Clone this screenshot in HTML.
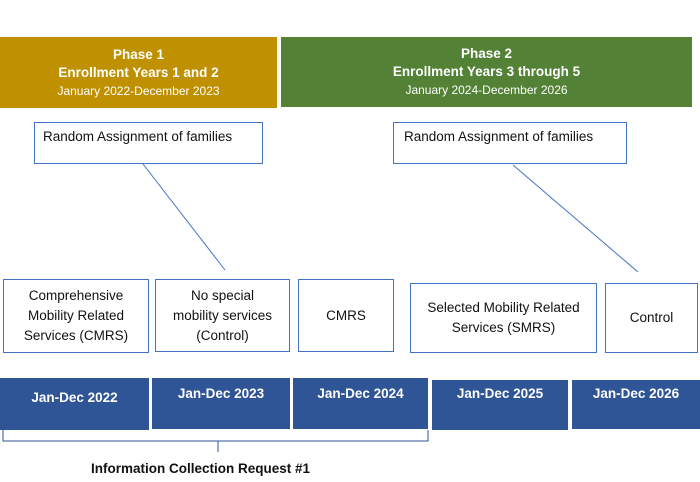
<!DOCTYPE html>
<html><head><meta charset="utf-8"><style>
body{margin:0;width:700px;height:482px;background:#fff;position:relative;overflow:hidden;font-family:"Liberation Sans",sans-serif;}
.b{position:absolute;box-sizing:border-box;display:flex;flex-direction:column;align-items:center;justify-content:center;text-align:center;}
.ph{color:#fff;font-size:13px;line-height:18px;}
.ph b{font-size:13.5px}
.ph span{font-size:12px}
.o{border:1px solid #4472c4;font-size:13.5px;line-height:20px;color:#111;}
.t{background:#2f5597;color:#fff;font-weight:bold;font-size:13.5px;}
</style></head><body>
<div class="b ph" style="left:0;top:37px;width:277px;height:71px;background:#bf9000"><b>Phase 1</b><b>Enrollment Years 1 and 2</b><span>January 2022-December 2023</span></div>
<div class="b ph" style="left:281px;top:37px;width:411px;height:70px;background:#538135"><b>Phase 2</b><b>Enrollment Years 3 through 5</b><span>January 2024-December 2026</span></div>
<div class="b o" style="left:34px;top:122px;width:229px;height:42px;justify-content:flex-start;align-items:flex-start;padding:4px 8px">Random Assignment of families</div>
<div class="b o" style="left:393px;top:122px;width:234px;height:42px;justify-content:flex-start;align-items:flex-start;padding:4px 10px">Random Assignment of families</div>
<svg style="position:absolute;left:0;top:0" width="700" height="482">
<line x1="143" y1="164" x2="225" y2="270" stroke="#4472c4" stroke-width="1"/>
<line x1="513" y1="165" x2="638" y2="272" stroke="#4472c4" stroke-width="1"/>
<polyline points="3,430 3,441 428,441 428,430" fill="none" stroke="#2f5597" stroke-width="1"/>
<line x1="218" y1="441" x2="218" y2="452" stroke="#2f5597" stroke-width="1"/>
</svg>
<div class="b o" style="left:3px;top:279px;width:146px;height:74px">Comprehensive<br>Mobility Related<br>Services (CMRS)</div>
<div class="b o" style="left:155px;top:279px;width:135px;height:73px">No special<br>mobility services<br>(Control)</div>
<div class="b o" style="left:298px;top:279px;width:96px;height:73px">CMRS</div>
<div class="b o" style="left:410px;top:283px;width:187px;height:70px">Selected Mobility Related<br>Services (SMRS)</div>
<div class="b o" style="left:605px;top:283px;width:93px;height:70px">Control</div>
<div class="b t" style="left:0;top:378px;width:149px;height:52px;justify-content:flex-start;padding-top:12px">Jan-Dec 2022</div>
<div class="b t" style="left:152px;top:378px;width:138px;height:51px;justify-content:flex-start;padding-top:8px">Jan-Dec 2023</div>
<div class="b t" style="left:293px;top:378px;width:135px;height:51px;justify-content:flex-start;padding-top:8px">Jan-Dec 2024</div>
<div class="b t" style="left:432px;top:380px;width:136px;height:50px;justify-content:flex-start;padding-top:6px">Jan-Dec 2025</div>
<div class="b t" style="left:572px;top:380px;width:128px;height:49px;justify-content:flex-start;padding-top:6px">Jan-Dec 2026</div>
<div style="position:absolute;left:91px;top:461px;font-size:13.5px;font-weight:bold;color:#111">Information Collection Request #1</div>
</body></html>
